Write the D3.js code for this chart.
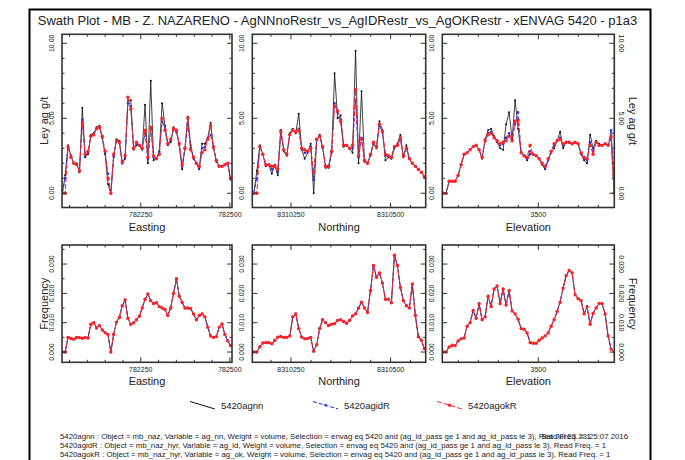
<!DOCTYPE html>
<html>
<head>
<meta charset="utf-8">
<script src="https://cdn.jsdelivr.net/npm/d3@7"></script>
<style>
  body { margin: 0; background: #fff; }
  text { font-family: "Liberation Sans", Arial, Helvetica, sans-serif; fill: #222; }
</style>
</head>
<body>
<svg id="chart" width="685" height="460"></svg>
<script>
// ---- swath centres (regular slice grids along each direction) ----
const eastingCentres   = d3.range(60).map(i => 782030 + 8 * i);
const northingCentres  = d3.range(58).map(i => 8310157 + 7.5 * i);
const elevationCentres = d3.range(58).map(i => 3262 + 7.5 * i);

// ---- mean Ag grade per slice (g/t) ----
const eastingNN = [0.0,1.2,3.2,2.5,2.0,2.0,1.4,5.7,2.4,2.6,3.9,4.0,4.4,4.5,3.7,2.6,0.6,0.0,2.4,3.6,3.5,2.0,2.3,6.2,6.2,2.9,3.2,3.2,2.9,5.9,2.0,7.5,2.2,2.3,2.8,6.0,4.5,3.2,3.4,4.4,4.1,3.2,1.6,3.0,5.1,3.2,2.3,2.0,1.6,3.3,3.3,3.7,4.7,3.0,2.1,1.8,1.8,1.9,2.0,0.9];
const eastingID = [0.0,1.0,3.1,2.5,2.0,1.9,1.5,4.9,2.5,2.7,3.8,3.9,4.3,4.4,3.7,2.7,1.3,0.0,2.5,3.5,3.4,2.0,2.4,6.0,5.8,3.0,3.3,3.2,3.0,4.0,2.3,4.3,2.4,2.3,2.7,4.8,4.3,3.3,3.5,4.3,4.1,3.3,1.8,3.0,4.6,3.0,2.4,2.0,1.7,3.0,3.1,3.6,3.9,3.1,2.2,1.8,1.8,1.9,2.0,1.0];
const eastingOK = [0.0,0.0,3.1,2.4,2.0,1.9,1.5,4.7,2.6,2.8,3.8,3.9,4.3,4.4,3.8,2.8,1.0,0.0,2.6,3.5,3.4,2.1,2.5,6.4,5.6,3.0,3.4,3.2,3.0,4.2,2.4,4.4,2.5,2.3,2.6,5.0,4.2,3.3,3.6,4.3,4.2,3.3,1.9,3.0,5.0,2.9,2.4,2.0,1.8,2.7,2.9,3.6,4.5,3.1,2.2,1.8,1.8,1.9,2.0,1.0];

const northingNN = [0.0,1.5,3.2,2.6,1.8,1.9,1.3,1.9,1.2,4.2,2.8,2.5,4.0,4.3,4.0,5.3,2.9,2.3,2.7,3.3,0.0,3.5,3.9,3.0,1.7,1.7,2.7,8.0,5.0,5.2,3.1,3.2,3.0,2.7,9.5,2.0,6.8,2.1,2.0,2.5,3.3,3.0,4.8,4.2,2.2,2.4,2.3,3.0,3.3,3.9,2.4,3.2,2.3,2.0,1.8,1.6,1.4,1.1];
const northingID = [0.0,1.0,3.1,2.6,1.9,1.9,1.6,1.8,1.4,4.2,2.9,2.6,3.9,4.2,4.1,4.3,3.0,2.7,2.8,3.1,0.9,3.6,3.8,3.1,1.8,1.8,2.8,6.0,5.4,4.9,3.2,3.2,3.0,3.0,6.2,2.4,3.7,2.2,2.0,2.6,3.4,3.1,4.5,4.1,2.5,2.5,2.4,3.1,3.2,3.6,2.5,3.0,2.3,2.0,1.8,1.6,1.4,1.1];
const northingOK = [0.0,0.0,3.1,2.6,1.9,1.9,1.8,1.8,1.6,4.1,2.9,2.6,3.9,4.2,4.1,4.2,3.0,2.9,2.8,3.0,1.4,3.6,3.8,3.1,1.8,1.8,2.8,5.8,5.5,4.8,3.2,3.2,3.0,3.2,6.9,2.5,3.6,2.2,2.0,2.6,3.4,3.1,4.6,4.1,2.6,2.5,2.4,3.1,3.2,3.7,2.5,3.0,2.3,2.0,1.8,1.6,1.4,1.1];

const elevationNN = [0.0,0.0,0.8,0.8,0.8,1.2,1.9,2.6,2.7,2.9,3.1,3.2,2.9,2.3,3.6,4.2,4.3,3.8,3.4,3.0,2.9,4.6,5.4,3.6,6.2,4.3,2.7,2.5,2.2,2.6,2.6,2.5,2.3,1.9,1.6,2.2,2.7,3.0,3.5,4.1,3.0,3.4,3.4,3.3,3.4,3.3,2.6,2.2,2.0,3.9,3.0,3.5,3.3,3.2,3.3,3.2,3.7,0.0];
const elevationID = [0.0,0.0,0.8,0.8,0.8,1.2,1.9,2.6,2.7,2.9,3.1,3.2,2.9,2.4,3.5,4.0,4.1,3.7,3.5,3.2,3.3,3.7,4.0,3.5,4.6,5.4,2.7,2.5,2.3,2.8,2.6,2.5,2.3,2.0,1.7,2.2,2.8,3.2,3.5,3.7,3.2,3.4,3.4,3.3,3.4,3.3,2.7,2.3,2.2,3.4,2.8,3.4,3.2,3.2,3.3,3.2,4.2,0.9];
const elevationOK = [0.0,0.0,0.8,0.8,0.8,1.2,1.9,2.6,2.7,2.9,3.1,3.2,2.9,2.4,3.5,3.9,4.0,3.7,3.5,3.3,3.4,3.5,3.8,3.5,4.8,4.9,2.7,2.5,2.4,3.2,2.6,2.5,2.3,2.0,1.8,2.3,2.8,3.3,3.5,3.6,3.3,3.4,3.4,3.3,3.4,3.3,2.7,2.4,2.3,3.2,2.6,3.4,3.2,3.2,3.3,3.2,3.8,0.0];

// ---- volume frequency per slice (same selection for all three estimates) ----
const eastingFreq = [0.0000,0.0000,0.0050,0.0046,0.0044,0.0050,0.0049,0.0047,0.0049,0.0048,0.0095,0.0100,0.0082,0.0090,0.0075,0.0066,0.0060,0.0000,0.0060,0.0102,0.0118,0.0158,0.0178,0.0115,0.0095,0.0100,0.0110,0.0122,0.0150,0.0180,0.0198,0.0175,0.0165,0.0168,0.0155,0.0150,0.0145,0.0125,0.0150,0.0200,0.0250,0.0190,0.0170,0.0150,0.0150,0.0148,0.0130,0.0110,0.0125,0.0130,0.0120,0.0085,0.0055,0.0050,0.0052,0.0085,0.0096,0.0060,0.0038,0.0022];
const northingFreq = [0.0000,0.0000,0.0018,0.0031,0.0032,0.0032,0.0028,0.0040,0.0051,0.0053,0.0050,0.0050,0.0055,0.0120,0.0130,0.0080,0.0051,0.0045,0.0046,0.0050,0.0003,0.0025,0.0080,0.0110,0.0100,0.0090,0.0095,0.0097,0.0108,0.0110,0.0104,0.0098,0.0108,0.0123,0.0130,0.0150,0.0170,0.0150,0.0135,0.0210,0.0295,0.0255,0.0270,0.0235,0.0180,0.0180,0.0168,0.0330,0.0295,0.0220,0.0175,0.0158,0.0150,0.0232,0.0125,0.0052,0.0040,0.0012];
const elevationFreq = [0.0000,0.0000,0.0017,0.0023,0.0022,0.0038,0.0045,0.0048,0.0088,0.0100,0.0142,0.0115,0.0165,0.0110,0.0120,0.0190,0.0155,0.0215,0.0225,0.0165,0.0215,0.0160,0.0210,0.0140,0.0130,0.0112,0.0080,0.0078,0.0065,0.0032,0.0030,0.0030,0.0040,0.0048,0.0055,0.0065,0.0088,0.0110,0.0138,0.0170,0.0218,0.0260,0.0278,0.0270,0.0195,0.0182,0.0175,0.0130,0.0155,0.0095,0.0132,0.0150,0.0166,0.0165,0.0130,0.0055,0.0010,0.0000];

// ---- axis ticks ----
const eastingTicks   = [782250, 782500];
const northingTicks  = [8310250, 8310500];
const elevationTicks = [3500];
const gradeTicks     = [0, 5, 10];
const freqTicks      = [0, 0.01, 0.02, 0.03];

const seriesNames = ["5420agnn", "5420agidR", "5420agokR"];

const title = "Swath Plot - MB - Z. NAZARENO - AgNNnoRestr_vs_AgIDRestr_vs_AgOKRestr - xENVAG 5420 - p1a3";
const footnotes = [
  "5420agnn : Object = mb_naz, Variable = ag_nn, Weight = volume, Selection = envag eq 5420 and (ag_id_pass ge 1 and ag_id_pass le 3), Read Freq. = 1",
  "5420agidR : Object = mb_naz_hyr, Variable = ag_id, Weight = volume, Selection = envag eq 5420 and (ag_id_pass ge 1 and ag_id_pass le 3), Read Freq. = 1",
  "5420agokR : Object = mb_naz_hyr, Variable = ag_ok, Weight = volume, Selection = envag eq 5420 and (ag_id_pass ge 1 and ag_id_pass le 3), Read Freq. = 1"
];
const stamp = "Sat Jul 23 23:25:07 2016";

// ---- styling ----
const colBlack = "#111", colBlue = "#2323ff", colRed = "#ff2222", frameCol = "#333";

const svg = d3.select("#chart");

// outer page frame
svg.append("rect").attr("x", 29.5).attr("y", 9.5).attr("width", 621).attr("height", 470)
  .attr("fill", "none").attr("stroke", "#000").attr("stroke-width", 2);

svg.append("text").attr("x", 337.5).attr("y", 25).attr("text-anchor", "middle")
  .attr("font-size", 13).text(title);

// column layout and row layout
const cols = [
  { name: "Easting",   x0: 62,    x1: 232,   domain: [782029, 782506],   ticks: eastingTicks,   xs: eastingCentres,   grade: [eastingNN, eastingID, eastingOK],       freq: eastingFreq },
  { name: "Northing",  x0: 252.3, x1: 425.7, domain: [8310153, 8310588], ticks: northingTicks,  xs: northingCentres,  grade: [northingNN, northingID, northingOK],    freq: northingFreq },
  { name: "Elevation", x0: 442.3, x1: 614.3, domain: [3260, 3690],       ticks: elevationTicks, xs: elevationCentres, grade: [elevationNN, elevationID, elevationOK], freq: elevationFreq }
];
const rows = [
  { y0: 34.3, y1: 207.5, domain: [-0.95, 10.6],     ticks: gradeTicks, minor: 1,     fmt: d3.format(".2f"), label: "Ley ag g/t", key: "grade" },
  { y0: 245,  y1: 362.3, domain: [-0.0035, 0.0365], ticks: freqTicks,  minor: 0.005, fmt: d3.format(".3f"), label: "Frequency",  key: "freq" }
];

const styles = [
  { col: colBlack, dash: null,  width: 0.8, marker: "dot" },
  { col: colBlue,  dash: "4,2", width: 0.9, marker: "square" },
  { col: colRed,   dash: "5,2", width: 1.0, marker: "circle" }
];

function drawMarkers(g, pts, st) {
  if (st.marker === "circle") {
    g.selectAll(null).data(pts).enter().append("circle")
      .attr("cx", d => d[0]).attr("cy", d => d[1]).attr("r", 1.7).attr("fill", st.col);
  } else if (st.marker === "square") {
    g.selectAll(null).data(pts).enter().append("rect")
      .attr("x", d => d[0] - 1.1).attr("y", d => d[1] - 1.1).attr("width", 2.2).attr("height", 2.2).attr("fill", st.col);
  } else {
    g.selectAll(null).data(pts).enter().append("circle")
      .attr("cx", d => d[0]).attr("cy", d => d[1]).attr("r", 1.0).attr("fill", st.col);
  }
}

let clipId = 0;
rows.forEach((row, ri) => {
  cols.forEach((c, ci) => {
    const x = d3.scaleLinear().domain(c.domain).range([c.x0, c.x1]);
    const y = d3.scaleLinear().domain(row.domain).range([row.y1, row.y0]);
    const g = svg.append("g");

    const id = "clip" + (clipId++);
    svg.append("clipPath").attr("id", id).append("rect")
      .attr("x", c.x0).attr("y", row.y0).attr("width", c.x1 - c.x0).attr("height", row.y1 - row.y0);

    // data lines
    const plot = g.append("g").attr("clip-path", `url(#${id})`);
    const seriesValues = row.key === "grade" ? c.grade : [c.freq, c.freq, c.freq];
    seriesValues.forEach((vals, si) => {
      const st = styles[si];
      const pts = vals.map((v, i) => [x(c.xs[i]), y(v)]);
      plot.append("path").attr("d", d3.line()(pts)).attr("fill", "none")
        .attr("stroke", st.col).attr("stroke-width", st.width)
        .attr("stroke-dasharray", st.dash);
      drawMarkers(plot, pts, st);
    });

    // frame
    g.append("rect").attr("x", c.x0).attr("y", row.y0).attr("width", c.x1 - c.x0).attr("height", row.y1 - row.y0)
      .attr("fill", "none").attr("stroke", frameCol).attr("stroke-width", 1.6);

    // x ticks: minor every 50 units, major at labelled values (inward on top and bottom)
    const xMinor = d3.range(Math.ceil(c.domain[0] / 50) * 50, c.domain[1], 50);
    xMinor.forEach(v => {
      const len = c.ticks.includes(v) ? 5 : 2.5;
      const px = x(v);
      g.append("line").attr("x1", px).attr("x2", px).attr("y1", row.y1).attr("y2", row.y1 - len).attr("stroke", frameCol).attr("stroke-width", 1);
      g.append("line").attr("x1", px).attr("x2", px).attr("y1", row.y0).attr("y2", row.y0 + len).attr("stroke", frameCol).attr("stroke-width", 1);
    });
    c.ticks.forEach(v => {
      g.append("text").attr("x", x(v)).attr("y", row.y1 + 9.5).attr("text-anchor", "middle")
        .attr("font-size", 7).text(v);
    });
    g.append("text").attr("x", (c.x0 + c.x1) / 2).attr("y", row.y1 + 23).attr("text-anchor", "middle")
      .attr("font-size", 11).text(c.name);

    // y ticks: minor and major, inward on left and right
    const nMinor = Math.round((row.domain[1] - 0) / row.minor);
    d3.range(0, nMinor + 1).map(k => k * row.minor).filter(v => v <= row.domain[1]).forEach(v => {
      const major = row.ticks.some(t => Math.abs(t - v) < 1e-9);
      const len = major ? 5 : 2.5;
      const py = y(v);
      g.append("line").attr("x1", c.x0).attr("x2", c.x0 + len).attr("y1", py).attr("y2", py).attr("stroke", frameCol).attr("stroke-width", 1);
      g.append("line").attr("x1", c.x1).attr("x2", c.x1 - len).attr("y1", py).attr("y2", py).attr("stroke", frameCol).attr("stroke-width", 1);
    });
    row.ticks.forEach(v => {
      const py = y(v);
      g.append("text").attr("transform", `translate(${c.x0 - 8},${py}) rotate(-90)`)
        .attr("text-anchor", "middle").attr("font-size", 7).text(row.fmt(v));
      if (ci === 2) {
        g.append("text").attr("transform", `translate(${c.x1 + 5},${py}) rotate(90)`)
          .attr("text-anchor", "middle").attr("font-size", 7).text(row.fmt(v));
      }
    });

    // y axis titles
    const cy = (row.y0 + row.y1) / 2;
    if (ci === 0) {
      svg.append("text").attr("transform", `translate(${c.x0 - 14},${cy}) rotate(-90)`)
        .attr("text-anchor", "middle").attr("font-size", 11).text(row.label);
    }
    if (ci === 2) {
      svg.append("text").attr("transform", `translate(${c.x1 + 14.5},${cy}) rotate(90)`)
        .attr("text-anchor", "middle").attr("font-size", 11).text(row.label);
    }
  });
});

// legend
const legendX = [190, 313, 437];
seriesNames.forEach((name, i) => {
  const st = styles[i];
  const lg = svg.append("g");
  const x0 = legendX[i], x1 = x0 + 25, y0 = 401.5, y1 = 409;
  lg.append("line").attr("x1", x0).attr("y1", y0).attr("x2", x1).attr("y2", y1)
    .attr("stroke", st.col).attr("stroke-width", 1).attr("stroke-dasharray", st.dash);
  if (i > 0) drawMarkers(lg, [[(x0 + x1) / 2, (y0 + y1) / 2]], st);
  lg.append("text").attr("x", x1 + 6).attr("y", 409).attr("font-size", 9.5).text(name);
});

// footnotes
footnotes.forEach((t, i) => {
  svg.append("text").attr("x", 60).attr("y", 439 + i * 9).attr("font-size", 7.8).text(t);
});
svg.append("text").attr("x", 628).attr("y", 439).attr("text-anchor", "end").attr("font-size", 7.8).text(stamp);
</script>
</body>
</html>
